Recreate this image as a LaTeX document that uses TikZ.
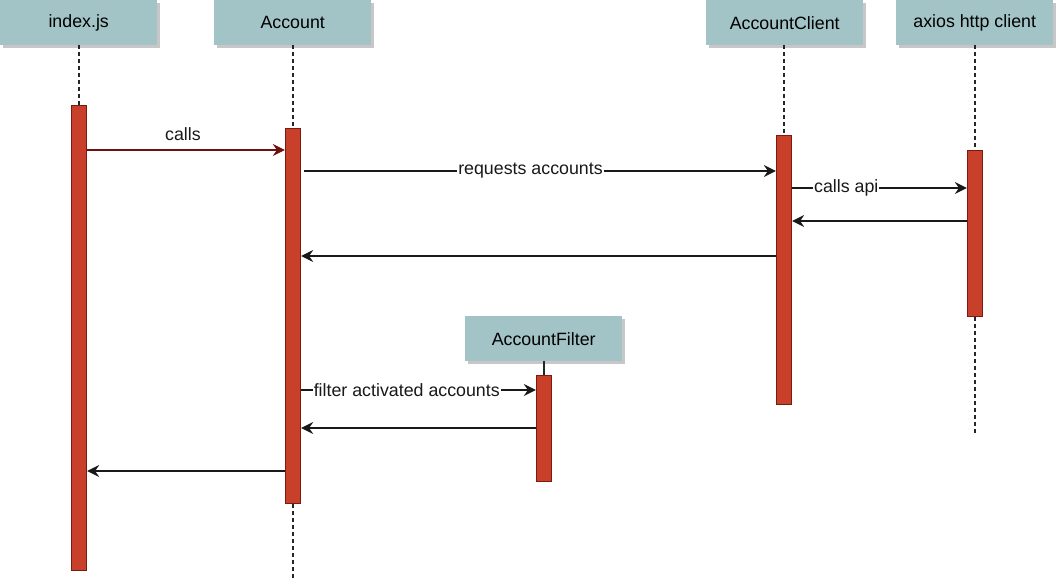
\documentclass[tikz,border=0pt]{standalone}
\usepackage{fontspec}
\setmainfont{Liberation Sans}
\usetikzlibrary{arrows.meta,shadows}
\definecolor{hdrfill}{HTML}{A3C4C6}
\definecolor{barfill}{HTML}{C9402A}
\definecolor{bardraw}{HTML}{7A1A10}
\definecolor{callred}{HTML}{6E1010}
\begin{document}
\begin{tikzpicture}[x=1pt,y=-1pt,
  font=\fontsize{17.8}{21}\selectfont,
  hdr/.style={fill=hdrfill, draw=none, minimum width=157pt, minimum height=45pt, anchor=north west, inner sep=0pt,
    drop shadow={shadow xshift=3pt, shadow yshift=-3pt, fill=black!22, opacity=1}},
  bar/.style={fill=barfill, draw=bardraw, line width=1.3pt, minimum width=15pt, anchor=north, inner sep=0pt},
  life/.style={draw=black!85, line width=1.3pt, dash pattern=on 4pt off 3pt},
  msg/.style={draw=black!90, line width=1.3pt, -{Stealth[length=12pt,width=12pt,inset=4pt]}},
  lbl/.style={fill=white, inner sep=1pt, text=black!90}
]
\useasboundingbox (0,0) rectangle (1058,581);
% headers
\node[hdr] (hIdx) at (0,0) {index.js};
\node[hdr] (hAcc) at (214,0) {Account};
\node[hdr] (hCli) at (706,0) {AccountClient};
\node[hdr] (hAx) at (896,0) {axios http client};
\node[hdr] (hFil) at (465,316) {AccountFilter};
% lifeline ends
\coordinate (eAcc) at (293,578);
\coordinate (eAx) at (975,436);
% bars
\node[bar, minimum height=465pt] (bIdx) at (79,105) {};
\node[bar, minimum height=375pt] (bAcc) at (293,128) {};
\node[bar, minimum height=269pt] (bCli) at (784,135) {};
\node[bar, minimum height=166pt] (bAx) at (975,150) {};
\node[bar, minimum height=106pt] (bFil) at (544,375) {};
% lifelines
\draw[life] (hIdx.south -| bIdx.north) -- (bIdx.north);
\draw[life] (hAcc.south -| bAcc.north) -- (bAcc.north);
\draw[life] (bAcc.south) -- (eAcc);
\draw[life] (hCli.south -| bCli.north) -- (bCli.north);
\draw[life] (hAx.south -| bAx.north) -- (bAx.north);
\draw[life] (bAx.south) -- (eAx);
\draw[line width=1.3pt, black!85] (hFil.south -| bFil.north) -- (bFil.north);
% message endpoints
\coordinate (m1a) at (bIdx.east |- 0,150);
\coordinate (m1b) at (bAcc.west |- 0,150);
\coordinate (m2a) at (304,171);
\coordinate (m2b) at (bCli.west |- 0,171);
\coordinate (m3a) at (bCli.east |- 0,188);
\coordinate (m3b) at (bAx.west |- 0,188);
\coordinate (m4a) at (bAx.west |- 0,221);
\coordinate (m4b) at (bCli.east |- 0,221);
\coordinate (m5a) at (bCli.west |- 0,256);
\coordinate (m5b) at (bAcc.east |- 0,256);
\coordinate (m6a) at (bAcc.east |- 0,390);
\coordinate (m6b) at (bFil.west |- 0,390);
\coordinate (m7a) at (bFil.west |- 0,428);
\coordinate (m7b) at (bAcc.east |- 0,428);
\coordinate (m8a) at (bAcc.west |- 0,471);
\coordinate (m8b) at (bIdx.east |- 0,471);
% messages
\draw[msg, draw=callred] (m1a) -- (m1b);
\node[text=black!90] (l1) at (183,134) {calls};
\draw[msg] (m2a) -- node[lbl, pos=0.48] (l2) {requests accounts} (m2b);
\draw[msg] (m3a) -- node[lbl, pos=0.31] (l3) {calls api} (m3b);
\draw[msg] (m4a) -- (m4b);
\draw[msg] (m5a) -- (m5b);
\draw[msg] (m6a) -- node[lbl, pos=0.45] (l6) {filter activated accounts} (m6b);
\draw[msg] (m7a) -- (m7b);
\draw[msg] (m8a) -- (m8b);
\end{tikzpicture}
\end{document}
